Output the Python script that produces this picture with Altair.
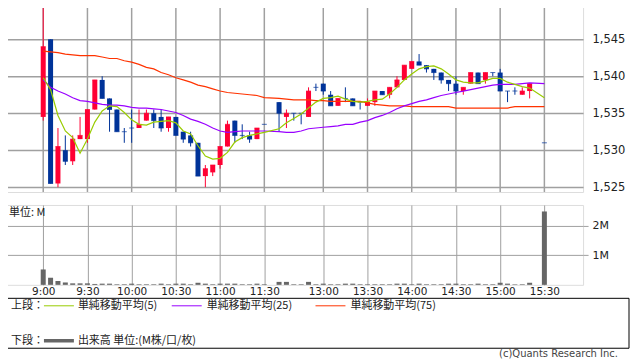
import altair as alt
import pandas as pd

# ---------------- data ----------------
missing_slots = [31, 67]
slots = [s for s in range(69) if s not in missing_slots]

opens = [1534.5, 1545, 1525.5, 1530, 1528.5, 1531.5, 1531.5, 1535.5, 1539.5, 1537,
         1535.5, 1532.5, 1533, 1533, 1534, 1535, 1534.5, 1533, 1534.5, 1532.5,
         1532, 1531, 1526.5, 1527, 1528, 1530.5, 1534, 1532, 1532, 1531.5,
         1533.5,
         1536.5, 1534.5, 1535, 1535, 1534.5, 1538.5, 1539, 1537.5, 1536, 1537,
         1537, 1536.5, 1536, 1536.5, 1538, 1537.5, 1538.5, 1539.5, 1541, 1542,
         1541.5, 1541, 1540.5, 1539.5, 1539, 1538, 1539, 1540.5, 1539.5, 1540.5,
         1540.5, 1538, 1538, 1537.5, 1538,
         1531]
highs = [1550, 1545, 1533, 1532, 1532, 1534.5, 1535.5, 1539.5, 1540, 1537,
         1535.5, 1533, 1535.5, 1535.5, 1535.5, 1535.5, 1535.5, 1534.5, 1534.5, 1532.5,
         1532.5, 1531, 1528, 1528, 1530.5, 1534, 1534, 1533.5, 1532.5, 1533,
         1533.5,
         1536.5, 1535.5, 1535, 1535, 1538.5, 1539, 1539, 1538, 1537, 1538.5,
         1537, 1536.5, 1537, 1538, 1538, 1538.5, 1540, 1541.5, 1542, 1543,
         1541.5, 1541, 1540.5, 1539.5, 1540, 1538.5, 1540.5, 1540.5, 1540.5, 1540.5,
         1541, 1538, 1538.5, 1538.5, 1539,
         1531]
lows = [1534, 1525.5, 1525, 1528, 1528, 1531.5, 1531, 1535.5, 1537, 1532.5,
        1532.5, 1531, 1531, 1533, 1534, 1533, 1532.5, 1532.5, 1532, 1531,
        1530.5, 1526.5, 1525, 1526.5, 1527.5, 1530.5, 1531, 1531.5, 1531, 1531.5,
        1533.5,
        1532.5, 1533, 1534, 1533.5, 1534.5, 1538, 1537.5, 1536, 1536, 1536.5,
        1536, 1535.5, 1536, 1536, 1537.5, 1537, 1538.5, 1539.5, 1541, 1541.5,
        1540.5, 1539.5, 1539, 1538, 1537.5, 1537.5, 1539, 1539, 1539, 1540,
        1538, 1536.5, 1537.5, 1537.5, 1537,
        1531]
closes = [1544, 1525.5, 1530.5, 1528.5, 1531.5, 1532, 1535.5, 1539.5, 1537, 1535.5,
          1532.5, 1532.5, 1533, 1533.5, 1535, 1534, 1533, 1534.5, 1532, 1531.5,
          1531, 1526.5, 1527.5, 1528, 1530.5, 1533.5, 1532, 1532, 1531.5, 1533,
          1533.5,
          1535, 1535, 1535, 1535, 1538, 1538.5, 1538, 1536, 1537, 1537,
          1536, 1536.5, 1536.5, 1538, 1537.5, 1538.5, 1539.5, 1541.5, 1542, 1541.5,
          1541, 1540.5, 1539.5, 1539, 1538, 1538.5, 1540.5, 1539, 1540.5, 1540.5,
          1538, 1538, 1538, 1538, 1539,
          1531]
ma5 = [1539.8, 1538.2, 1534.7, 1532.6, 1531.7, 1529.6, 1531.5, 1533.8, 1535.3, 1536.0,
       1535.9, 1535.1, 1534.1, 1533.5, 1533.4, 1533.8, 1533.9, 1534.0, 1533.7, 1532.6,
       1532.2, 1530.6, 1529.2, 1528.8, 1528.9, 1529.7, 1531.1, 1531.7, 1532.0, 1532.2,
       1532.4,
       1532.9, 1533.7, 1534.3, 1534.9, 1535.7, 1536.5, 1537.0, 1537.1, 1537.3, 1536.9,
       1536.6, 1536.5, 1536.6, 1536.8, 1536.9, 1537.6, 1538.5, 1539.5, 1540.3, 1541.0,
       1541.3, 1541.4, 1541.0, 1540.3, 1539.5, 1539.2, 1539.1, 1539.1, 1539.4, 1539.7,
       1539.7, 1539.2, 1538.9, 1538.6, 1538.4,
       1537.1]
ma25 = [1539.5, 1538.5, 1538.0, 1537.6, 1537.1, 1536.7, 1536.6, 1536.4, 1536.2, 1536.1,
        1536.1, 1536.0, 1535.8, 1535.7, 1535.7, 1535.6, 1535.5, 1535.3, 1535.1, 1534.7,
        1534.2, 1533.9, 1533.5, 1533.0, 1532.6, 1532.4, 1532.5, 1532.6, 1532.6, 1532.6,
        1532.6,
        1532.5, 1532.4, 1532.4, 1532.6, 1532.9, 1533.0, 1533.1, 1533.2, 1533.3, 1533.5,
        1533.5, 1533.8, 1534.0, 1534.4, 1534.7, 1535.1, 1535.6, 1536.0, 1536.3, 1536.6,
        1536.8, 1537.1, 1537.4, 1537.6, 1537.8, 1538.0, 1538.2, 1538.4, 1538.6, 1538.8,
        1538.9, 1538.9, 1538.9, 1539.0, 1539.1,
        1539.0]
ma75 = [1543.4, 1543.3, 1543.2, 1543.0, 1542.9, 1542.8, 1542.8, 1542.8, 1542.6, 1542.4,
        1542.4, 1542.1, 1541.9, 1541.6, 1541.2, 1541.0, 1540.5, 1540.2, 1539.8, 1539.5,
        1539.2, 1538.8, 1538.6, 1538.3, 1538.0, 1537.8, 1537.7, 1537.6, 1537.5, 1537.4,
        1537.1,
        1537.0, 1536.9, 1536.8, 1536.8, 1536.8, 1536.7, 1536.7, 1536.6, 1536.6, 1536.6,
        1536.6, 1536.6, 1536.4, 1536.2, 1536.1, 1536.0, 1536.0, 1536.0, 1535.9, 1535.9,
        1535.9, 1535.9, 1535.9, 1535.9, 1535.7, 1535.7, 1535.7, 1535.7, 1535.7, 1535.7,
        1535.7, 1535.7, 1535.9, 1535.9, 1535.9,
        1535.9]
volume_m = [0.52, 0.24, 0.13, 0.08, 0.05, 0.05, 0.05, 0.03, 0.04, 0.04,
            0.02, 0.02, 0.04, 0.02, 0.02, 0.02, 0.04, 0.02, 0.04, 0.04,
            0.02, 0.07, 0.04, 0.02, 0.04, 0.04, 0.04, 0.02, 0.02, 0.04,
            0.02,
            0.10, 0.10, 0.02, 0.02, 0.10, 0.02, 0.04, 0.02, 0.02, 0.04,
            0.04, 0.02, 0.02, 0.02, 0.02, 0.02, 0.04, 0.04, 0.02, 0.04,
            0.02, 0.02, 0.02, 0.04, 0.04, 0.02, 0.02, 0.04, 0.02, 0.02,
            0.07, 0.04, 0.02, 0.02, 0.07,
            2.48]

tick_slots = [0, 6, 12, 18, 24, 30, 38, 44, 50, 56, 62, 68]
tick_labels = ["9:00", "9:30", "10:00", "10:30", "11:00", "11:30",
               "13:00", "13:30", "14:00", "14:30", "15:00", "15:30"]
price_ticks = [1525, 1530, 1535, 1540, 1545]
volume_ticks = [1, 2]

legend_upper_title = "上段："
legend_lower_title = "下段："
ma_names = ["単純移動平均(5)", "単純移動平均(25)", "単純移動平均(75)"]
volume_name = "出来高 単位:(M株/口/枚)"
unit_label = "単位: M"
credit = "(c)Quants Research Inc."

# ---------------- styles ----------------
RED = "#ff0033"
BLUE = "#003399"
C_MA5 = "#99cc00"
C_MA25 = "#9900ff"
C_MA75 = "#ff3300"
VOLC = "#666666"
GRID = "#a0a0a0"
TXT = "#222222"
NUMFONT = "DejaVu Sans"
JPFONT = "Noto Sans CJK JP"

df = pd.DataFrame({
    "slot": slots, "open": opens, "high": highs, "low": lows, "close": closes,
    "ma5": ma5, "ma25": ma25, "ma75": ma75, "vol": volume_m,
})
df["dir"] = ["up" if c > o else "down" for o, c in zip(df["open"], df["close"])]
ticks_df = pd.DataFrame({"slot": tick_slots})

W = 580
x_scale = alt.Scale(domain=[-5.32, 73.25], nice=False, zero=False, padding=0)
y_scale = alt.Scale(domain=[1524.35, 1550], nice=False, zero=False, padding=0)
v_scale = alt.Scale(domain=[0, 2.7], nice=False, zero=True, padding=0)

y_axis_top = alt.Axis(orient="right", values=price_ticks, format=",", grid=True,
                      gridColor=GRID, gridWidth=1.5, ticks=False, domain=False,
                      labelPadding=9, labelFont=NUMFONT, labelFontSize=11.5,
                      labelColor=TXT, title=None)

label_expr = " : ".join(
    f"datum.value == {s} ? '{l}'" for s, l in zip(tick_slots, tick_labels)
) + " : ''"
x_axis_vol = alt.Axis(values=tick_slots, labelExpr=label_expr, ticks=False, domain=False,
                      grid=True, gridColor=GRID, gridWidth=1, labelPadding=2,
                      labelFont=NUMFONT, labelFontSize=10.5, labelColor=TXT,
                      labelFlush=False, labelOverlap=False, title=None)
y_axis_vol = alt.Axis(orient="right", values=volume_ticks, labelExpr="datum.value + 'M'",
                      grid=True, gridColor=GRID, gridWidth=1, ticks=True, tickSize=5,
                      tickColor=GRID, domain=False, labelPadding=4, labelFont=NUMFONT,
                      labelFontSize=11, labelColor=TXT, title=None)

X_top = alt.X("slot:Q", scale=x_scale, axis=None)
color_enc = alt.Color("dir:N", scale=alt.Scale(domain=["up", "down"], range=[RED, BLUE]),
                      legend=None)

vgrid = alt.Chart(ticks_df).mark_rule(color=GRID, strokeWidth=1.5).encode(
    x=X_top, y=alt.value(0), y2=alt.value(190))

base = alt.Chart(df)
wicks = base.mark_rule(strokeWidth=1).encode(
    x=X_top, y=alt.Y("low:Q", scale=y_scale, axis=y_axis_top), y2="high:Q", color=color_enc)
bodies = base.mark_bar(size=5).encode(
    x=X_top, y=alt.Y("open:Q", scale=y_scale, axis=y_axis_top), y2="close:Q", color=color_enc)
doji = base.mark_tick(orient="horizontal", size=5, thickness=1).encode(
    x=X_top, y=alt.Y("close:Q", scale=y_scale, axis=y_axis_top), color=color_enc)


def ma_line(field, col):
    return base.mark_line(color=col, strokeWidth=1.2, interpolate="linear").encode(
        x=X_top, y=alt.Y(f"{field}:Q", scale=y_scale, axis=y_axis_top))


top = alt.layer(vgrid, wicks, bodies, doji, ma_line("ma75", C_MA75),
                ma_line("ma25", C_MA25), ma_line("ma5", C_MA5)
                ).properties(width=W, height=190)

# ---------------- volume panel + legend ----------------
X_vol = alt.X("slot:Q", scale=x_scale, axis=x_axis_vol)
vol_bars = base.mark_bar(size=5, color=VOLC).encode(
    x=X_vol, y=alt.Y("vol:Q", scale=v_scale, axis=y_axis_vol))


def txt(s, x, y, align="left", font=JPFONT, size=11, color=TXT):
    return alt.Chart(pd.DataFrame({"t": [s]})).mark_text(
        align=align, baseline="middle", font=font, fontSize=size, color=color
    ).encode(text="t:N", x=alt.value(x), y=alt.value(y))


def seg(x1, x2, y, col, w=1):
    return alt.Chart(pd.DataFrame({"t": [0]})).mark_rule(color=col, strokeWidth=w).encode(
        x=alt.value(x1), x2=alt.value(x2), y=alt.value(y))


box = alt.Chart(pd.DataFrame({"t": [0]})).mark_rect(
    fill="white", fillOpacity=0, stroke="#000000", strokeWidth=1
).encode(x=alt.value(0.5), x2=alt.value(626), y=alt.value(93.5), y2=alt.value(143.5))

r1, r2 = 101, 136
legend_layers = [
    box,
    txt(unit_label, 5, 8),
    txt(legend_upper_title, 7, r1),
    seg(40, 70, r1, C_MA5), txt(ma_names[0], 74, r1),
    seg(168, 198, r1, C_MA25), txt(ma_names[1], 203, r1),
    seg(312, 342, r1, C_MA75), txt(ma_names[2], 347, r1),
    txt(legend_lower_title, 7, r2),
    seg(40, 70, r2, VOLC, 3.5), txt(volume_name, 74, r2),
    txt(credit, 615, 149, align="right", font=NUMFONT, size=10, color="#444444"),
]

vol = alt.layer(vol_bars, *legend_layers).properties(width=W, height=80)

chart = alt.vconcat(top, vol, spacing=10).resolve_scale(
    x="independent", y="independent"
).properties(
    padding={"left": -5, "top": -8, "right": 0, "bottom": 0}
).configure_view(stroke="#999999", strokeWidth=1).configure(background="white")

chart.save("out.html", embed_options={"renderer": "svg", "actions": False})
